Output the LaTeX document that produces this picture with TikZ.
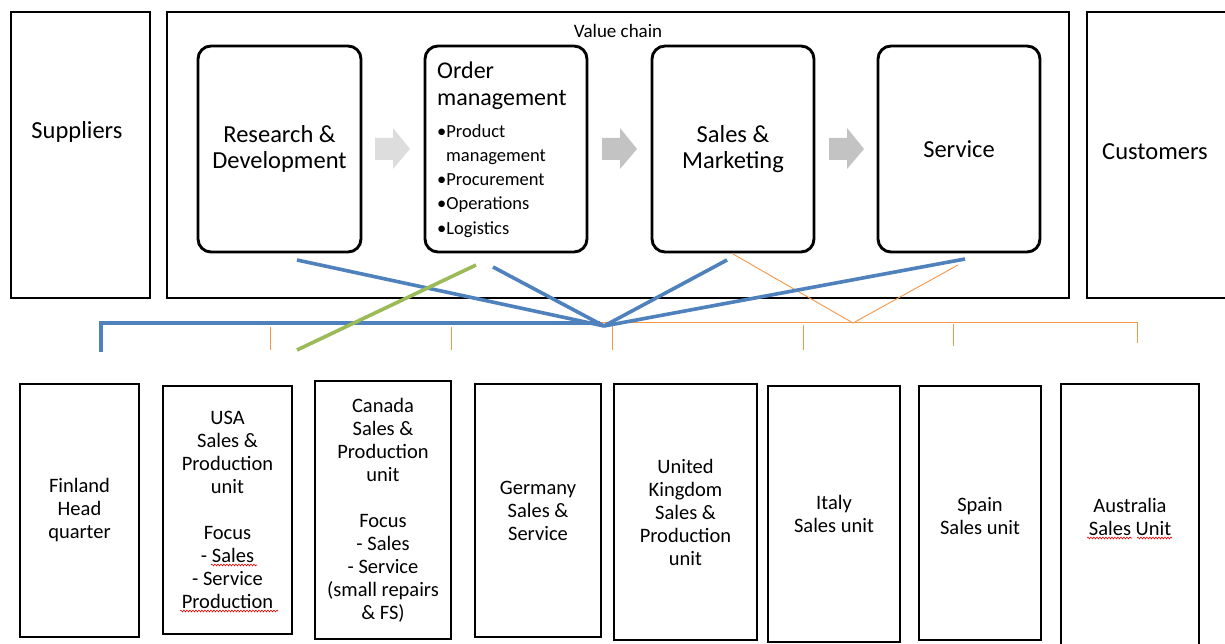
\documentclass[tikz,border=0pt]{standalone}
\usepackage{fontspec}
\setmainfont{Carlito}
\usetikzlibrary{decorations.pathmorphing}
\definecolor{linkblue}{HTML}{4F81BD}
\definecolor{linkgreen}{HTML}{9BBB59}
\definecolor{linkorange}{HTML}{F79646}
\definecolor{chevlight}{HTML}{DDDDDD}
\definecolor{chevdark}{HTML}{C3C3C3}
\tikzset{
  frame/.style={draw=black, line width=2.9pt, fill=white, inner sep=0pt},
  stage/.style={frame, rounded corners=13pt},
  bigtext/.style={font=\fontsize{24.5}{26}\selectfont, align=center, inner sep=0pt},
  unittext/.style={font=\fontsize{20.5}{23}\selectfont, align=center, inner sep=0pt},
  listtext/.style={font=\fontsize{18.5}{24.3}\selectfont, align=left, inner sep=0pt},
  blueline/.style={linkblue, line width=3.6pt},
  greenline/.style={linkgreen, line width=3.6pt},
  orangeline/.style={linkorange, line width=0.9pt},
  spellmark/.style={red, line width=0.6pt, decorate,
    decoration={snake, segment length=3pt, amplitude=0.9pt}}
}
\begin{document}
\begin{tikzpicture}[x=1pt,y=-1pt]
\useasboundingbox (0,0) rectangle (1225,644);
\clip (0,0) rectangle (1225,644);
\fill[white] (0,0) rectangle (1225,644);

% outer frames
\node[frame, minimum width=139pt, minimum height=286pt] (sup) at (80.5,155) {};
\node[bigtext] (suplabel) at (77,132) {Suppliers};
\node[frame, minimum width=902pt, minimum height=286pt] (vc) at (618,155) {};
\node[font=\fontsize{19}{21}\selectfont, inner sep=0pt] (vclabel) at (618,31) {Value chain};
\node[frame, minimum width=160pt, minimum height=286pt] (cus) at (1167,155) {};
\node[bigtext] (cuslabel) at (1155,152) {Customers};

% value chain stages
\node[stage, minimum width=163pt, minimum height=206pt, bigtext] (rd) at (279.5,149) {Research \&\\Development};
\node[stage, minimum width=162pt, minimum height=206pt] (om) at (506,149) {};
\node[font=\fontsize{24}{27}\selectfont, align=left, inner sep=0pt, anchor=north west] (omtitle) at (437,62) {Order\\management};
\node[listtext, anchor=north west] (omlist) at (437,124) {\textbullet Product\\\hspace{9pt}management\\\textbullet Procurement\\\textbullet Operations\\\textbullet Logistics};
\node[stage, minimum width=162pt, minimum height=206pt, bigtext] (sm) at (733,149) {Sales \&\\Marketing};
\node[stage, minimum width=162pt, minimum height=206pt, bigtext] (svc) at (959,149) {Service};

% block arrows between the stages
\fill[chevlight] (375,138) -- (393,138) -- (393,128) -- (410,149) -- (393,169) -- (393,160) -- (375,160) -- cycle;
\fill[chevdark] (602,138) -- (620,138) -- (620,128) -- (637,149) -- (620,169) -- (620,160) -- (602,160) -- cycle;
\fill[chevdark] (829,138) -- (847,138) -- (847,128) -- (864,149) -- (847,169) -- (847,160) -- (829,160) -- cycle;

% units
\node[frame, minimum width=119pt, minimum height=253pt, unittext] (fin) at (79.5,510.5) {Finland\\Head\\quarter};
\node[frame, minimum width=129pt, minimum height=248pt, unittext] (usa) at (227.5,510) {USA\\Sales \&\\Production\\unit\\[23pt]Focus\\- Sales\\- Service\\Production};
\node[frame, minimum width=136pt, minimum height=258pt, unittext] (can) at (383,510) {Canada\\Sales \&\\Production\\unit\\[23pt]Focus\\- Sales\\- Service\\(small repairs\\\& FS)};
\node[frame, minimum width=126pt, minimum height=253pt, unittext] (ger) at (538,510.5) {Germany\\Sales \&\\Service};
\node[frame, minimum width=143pt, minimum height=256pt, unittext] (uk) at (685.5,512) {United\\Kingdom\\Sales \&\\Production\\unit};
\node[frame, minimum width=132pt, minimum height=256pt, unittext] (ita) at (834,514) {Italy\\Sales unit};
\node[frame, minimum width=122pt, minimum height=254pt] (spa) at (980,513) {};
\node[unittext] (spalabel) at (980,516) {Spain\\Sales unit};
\node[frame, minimum width=138pt, minimum height=266pt, unittext] (aus) at (1130,517) {Australia\\Sales Unit};

% spelling marks
\draw[spellmark] (211,565) -- (257,565);
\draw[spellmark] (180,611) -- (278,611);
\draw[spellmark] (1087,538) -- (1132,538);
\draw[spellmark] (1137,538) -- (1172,538);

% connection points
\coordinate (hub) at (604,326);
\coordinate (rdfoot) at (297,260);
\coordinate (omfoot) at (493,267);
\coordinate (smfoot) at (727,260);
\coordinate (svcfoot) at (965,259);
\coordinate (greentop) at (476,265);
\coordinate (greenend) at (297,350);
\coordinate (bracketL) at (101,323);
\coordinate (bracketLdown) at (101,352);
\coordinate (bracketR) at (600,323);
\coordinate (orangeL) at (478,322);
\coordinate (orangeR) at (1137,322);
\coordinate (orangeRdown) at (1137,343);
\coordinate (vtop1) at (733,254);
\coordinate (vbottom) at (853,323);
\coordinate (vtop2) at (958,265);

% orange network
\draw[orangeline] (orangeL) -- (orangeR) -- (orangeRdown);
\draw[orangeline] (270,327) -- (270,350);
\draw[orangeline] (451,327) -- (451,350);
\draw[orangeline] (612,326) -- (612,350);
\draw[orangeline] (803,325) -- (803,350);
\draw[orangeline] (953,324) -- (953,346);
\draw[orangeline] (vtop1) -- (vbottom) -- (vtop2);

% blue network
\draw[blueline] (bracketLdown) -- (bracketL) -- (bracketR);
\draw[blueline] (rdfoot) -- (hub);
\draw[blueline] (omfoot) -- (hub);
\draw[blueline] (smfoot) -- (hub);
\draw[blueline] (svcfoot) -- (hub);

% green link
\draw[greenline] (greentop) -- (greenend);
\end{tikzpicture}
\end{document}
